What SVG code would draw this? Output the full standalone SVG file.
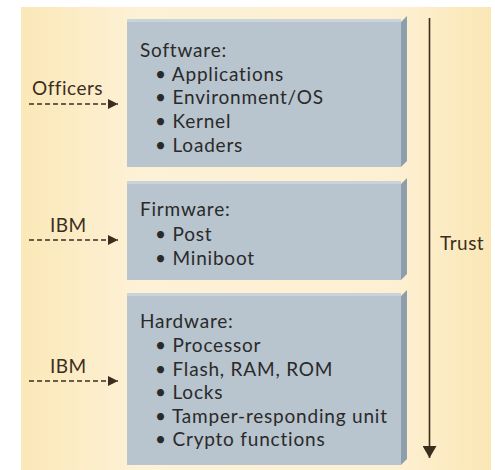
<svg xmlns="http://www.w3.org/2000/svg" width="495" height="470" viewBox="0 0 495 470">
<defs>
<linearGradient id="bg" x1="0" y1="0" x2="1" y2="0">
<stop offset="0" stop-color="#fbe8b8"/>
<stop offset="0.25" stop-color="#fdf1d6"/>
<stop offset="0.8" stop-color="#fdf0d2"/>
<stop offset="1" stop-color="#fbe7b5"/>
</linearGradient>
<marker id="ah" viewBox="0 0 10 10" refX="10" refY="5" markerWidth="10" markerHeight="10" markerUnits="userSpaceOnUse" orient="auto">
<path d="M0,0 L10,5 L0,10 Z" fill="#3b2e1e"/>
</marker>
<marker id="ahv" viewBox="0 0 12 14" refX="12" refY="7" markerWidth="12" markerHeight="14" markerUnits="userSpaceOnUse" orient="auto">
<path d="M0,0 L12,7 L0,14 Z" fill="#3b2e1e"/>
</marker>
</defs>
<style>
.box{fill:#b8c4ce}
.bev{fill:#8d9fad}
.top{fill:#c9d3dc}
text{font-family:Lato,"Open Sans",sans-serif;fill:#2a2a2a;font-size:19px;letter-spacing:0.8px}
.lbl{fill:#3b2e1e;font-size:19px;letter-spacing:0.5px}
.dash{stroke:#3b2e1e;stroke-width:1.6;stroke-dasharray:5,3;fill:none}
</style>
<rect x="21" y="7" width="470" height="463" fill="url(#bg)"/>
<g id="software">
<rect class="box" x="127" y="19" width="274" height="148"/>
<rect class="top" x="127" y="19" width="274" height="3"/>
<path class="bev" d="M401,22 L407,16 L407,161 L401,167 Z"/>
<text x="140" y="57">Software:</text>
<text x="155" y="81">• Applications</text>
<text x="155" y="104">• Environment/OS</text>
<text x="155" y="128">• Kernel</text>
<text x="155" y="152">• Loaders</text>
</g>
<g id="firmware">
<rect class="box" x="127" y="181" width="274" height="99"/>
<rect class="top" x="127" y="181" width="274" height="3"/>
<path class="bev" d="M401,184 L407,178 L407,274 L401,280 Z"/>
<text x="140" y="216">Firmware:</text>
<text x="155" y="241">• Post</text>
<text x="155" y="265">• Miniboot</text>
</g>
<g id="hardware">
<rect class="box" x="127" y="293" width="274" height="172"/>
<rect class="top" x="127" y="293" width="274" height="3"/>
<path class="bev" d="M401,296 L407,290 L407,459 L401,465 Z"/>
<text x="140" y="328">Hardware:</text>
<text x="155" y="352">• Processor</text>
<text x="155" y="376">• Flash, RAM, ROM</text>
<text x="155" y="399">• Locks</text>
<text x="155" y="423">• Tamper-responding unit</text>
<text x="155" y="446">• Crypto functions</text>
</g>
<g id="labels">
<text class="lbl" x="32" y="95">Officers</text>
<text class="lbl" x="50" y="232">IBM</text>
<text class="lbl" x="50" y="373">IBM</text>
<text class="lbl" x="440" y="250">Trust</text>
</g>
<g id="connectors">
<line class="dash" x1="29" y1="104" x2="118" y2="104" marker-end="url(#ah)"/>
<line class="dash" x1="29" y1="240" x2="118" y2="240" marker-end="url(#ah)"/>
<line class="dash" x1="29" y1="381" x2="118" y2="381" marker-end="url(#ah)"/>
<line x1="429.5" y1="18" x2="429.5" y2="458" stroke="#3b2e1e" stroke-width="1.6" marker-end="url(#ahv)"/>
</g>
</svg>
